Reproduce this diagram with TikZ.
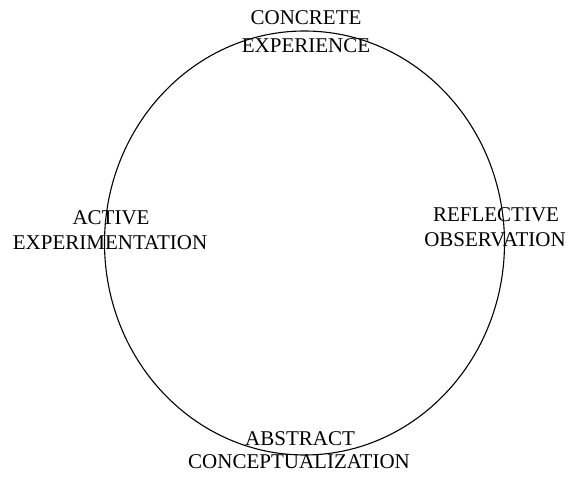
\documentclass[tikz,border=0pt]{standalone}
\usepackage{fontspec}
\setmainfont{Liberation Serif}
\begin{document}
\begin{tikzpicture}[x=1pt,y=1pt,
  lbl/.style={anchor=base,inner sep=0pt,font=\fontsize{21}{24}\selectfont}]
\useasboundingbox (0,0) rectangle (575,479);
\draw[line width=1.1pt] (304.5,236) ellipse [x radius=200, y radius=212];
\node[lbl] (c1) at (306,454) {CONCRETE};
\node[lbl] (c2) at (306,426) {EXPERIENCE};
\node[lbl] (a1) at (111,254) {ACTIVE};
\node[lbl] (a2) at (110,229) {EXPERIMENTATION};
\node[lbl] (r1) at (496,257) {REFLECTIVE};
\node[lbl] (r2) at (495,232) {OBSERVATION};
\node[lbl] (b1) at (300,34) {ABSTRACT};
\node[lbl] (b2) at (299,11) {CONCEPTUALIZATION};
\end{tikzpicture}
\end{document}
